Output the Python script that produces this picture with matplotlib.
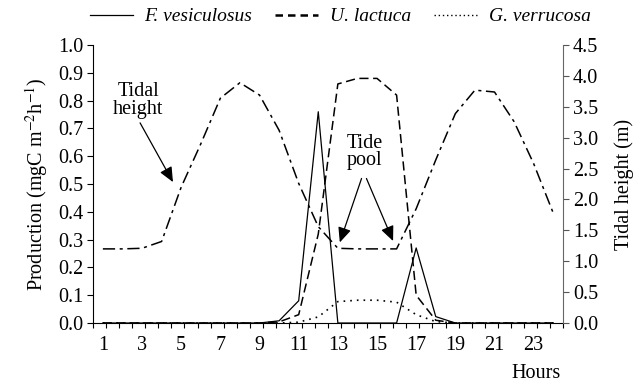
import numpy as np
import matplotlib.pyplot as plt
from matplotlib.lines import Line2D

plt.rcParams['font.family'] = ['Liberation Serif', 'DejaVu Serif']
plt.rcParams['mathtext.fontset'] = 'stix'

hours = np.arange(1, 25)
f_vesiculosus = [0, 0, 0, 0, 0, 0, 0, 0, 0, 0.008, 0.08, 0.76, 0, 0, 0, 0,
                 0.27, 0.023, 0, 0, 0, 0, 0, 0]
u_lactuca = [0, 0, 0, 0, 0, 0, 0, 0, 0, 0.004, 0.03, 0.32, 0.86, 0.88, 0.88, 0.82,
             0.1, 0.01, 0, 0, 0, 0, 0, 0]
g_verrucosa = [0, 0, 0, 0, 0, 0, 0, 0, 0, 0, 0.003, 0.022, 0.077, 0.082, 0.082, 0.075,
               0.03, 0.005, 0, 0, 0, 0, 0, 0]
tide = [1.2, 1.2, 1.21, 1.32, 2.2, 2.9, 3.64, 3.89, 3.69, 3.12, 2.26, 1.56,
        1.21, 1.2, 1.2, 1.2, 1.85, 2.64, 3.39, 3.77, 3.74, 3.26, 2.58, 1.78]
odd_hours = list(range(1, 24, 2))

fig = plt.figure(figsize=(6.42, 3.85), dpi=100)
ax = fig.add_axes([0.145, 0.161, 0.732, 0.722])
ax2 = ax.twinx()

ax.plot(hours, f_vesiculosus, color='black', lw=0.9, ls='-')
ax.plot(hours, u_lactuca, color='black', lw=1.1, ls=(0, (6, 3)))
ax.plot(hours, g_verrucosa, color='black', lw=1.2, ls=(0, (1, 3)))
ax2.plot(hours, tide, color='black', lw=1.1, ls=(0, (8, 3, 2, 3)))

ax.set_xlim(0.5, 24.5)
ax.set_ylim(0, 1.0)
ax2.set_ylim(0, 4.5)
ax.set_xticks(odd_hours)
ax.set_xticks(0.5 + np.arange(37) * 2 / 3, minor=True)
ax.set_yticks(np.arange(0, 1.01, 0.1))
ax.set_yticklabels(['%.1f' % v for v in np.arange(0, 1.01, 0.1)])
ax2.set_yticks(np.arange(0, 4.51, 0.5))
ax2.set_yticklabels(['%.1f' % v for v in np.arange(0, 4.51, 0.5)])

fs = 14.5
ax.tick_params(axis='y', labelsize=fs, direction='out', length=4, width=0.8, pad=3)
ax.tick_params(axis='x', which='major', labelsize=fs, length=0, pad=9)
ax.tick_params(axis='x', which='minor', direction='out', length=3.5, width=0.8)
ax2.tick_params(axis='y', labelsize=fs, direction='out', length=4, width=0.8, colors='#555555',
                labelcolor='black', pad=3)
for a in (ax, ax2):
    a.spines['top'].set_visible(False)
ax.spines['right'].set_visible(False)
ax2.spines['left'].set_visible(False)
ax2.spines['bottom'].set_visible(False)
ax2.spines['right'].set_color('#666666')

ax.set_ylabel('Production (mgC m$^{-2}$h$^{-1}$)', fontsize=fs, labelpad=6)
ax2.set_ylabel('Tidal height (m)', fontsize=fs, labelpad=12)
ax.text(23.1, -0.18, 'Hours', fontsize=fs, ha='center', va='center')

arrow = dict(arrowstyle='-|>,head_width=0.4,head_length=0.9', color='black', lw=0.9,
             shrinkA=0, shrinkB=0)
ax.text(2.8, 0.80, 'Tidal\nheight', fontsize=fs, ha='center', va='center', linespacing=0.9)
ax.annotate('', xy=(4.58, 0.507), xytext=(2.9, 0.72), arrowprops=arrow)
ax.text(14.38, 0.615, 'Tide\npool', fontsize=fs, ha='center', va='center', linespacing=0.9)
ax.annotate('', xy=(13.1, 0.29), xytext=(14.21, 0.52), arrowprops=arrow)
ax.annotate('', xy=(15.82, 0.295), xytext=(14.46, 0.52), arrowprops=arrow)

handles = [Line2D([], [], color='black', lw=0.9, ls='-'),
           Line2D([], [], color='black', lw=1.8, ls=(0, (3, 2))),
           Line2D([], [], color='black', lw=1.0, ls=(0, (1, 2)))]
labels = ['F. vesiculosus', 'U. lactuca', 'G. verrucosa']
fig.legend(handles, labels, loc='upper center', bbox_to_anchor=(0.53, 1.025), ncol=3, frameon=False,
           prop={'style': 'italic', 'size': 14}, handlelength=2.2, columnspacing=1.2, handletextpad=0.6)

fig.savefig('out.png', dpi=100)
